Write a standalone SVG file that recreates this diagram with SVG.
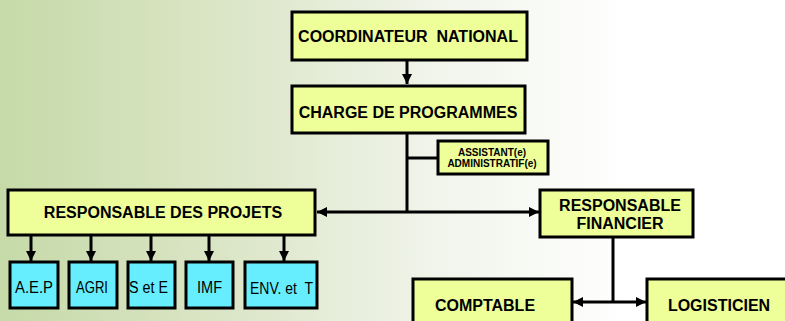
<svg xmlns="http://www.w3.org/2000/svg" width="785" height="321" viewBox="0 0 785 321">
<defs>
<linearGradient id="bg" x1="0" y1="0" x2="1" y2="0">
<stop offset="0" stop-color="#c6daa8"/>
<stop offset="0.3" stop-color="#dce6c8"/>
<stop offset="0.55" stop-color="#f0f4ea"/>
<stop offset="0.8" stop-color="#ffffff"/>
<stop offset="1" stop-color="#ffffff"/>
</linearGradient>
<marker id="ah" viewBox="0 0 10 10" refX="10" refY="5" markerWidth="10" markerHeight="10" markerUnits="userSpaceOnUse" orient="auto-start-reverse">
<path d="M0,0 L10,5 L0,10 z" fill="#000"/>
</marker>
<style>
.y{fill:#eeff99;stroke:#000;stroke-width:3}
.c{fill:#66eeff;stroke:#000;stroke-width:3}
.t{font-family:"Liberation Sans",Arial,sans-serif;font-weight:bold;fill:#000;text-anchor:middle;font-size:16px}
.s{font-family:"Liberation Sans",Arial,sans-serif;font-weight:bold;fill:#000;text-anchor:middle;font-size:10px}
.r{font-family:"Liberation Sans",Arial,sans-serif;fill:#000;text-anchor:middle;font-size:16px}
.l{stroke:#000;stroke-width:3;fill:none}
</style>
</defs>
<rect x="0" y="0" width="785" height="321" fill="url(#bg)"/>
<g id="connectors">
<line class="l" x1="407" y1="60" x2="407" y2="84" marker-end="url(#ah)"/>
<line class="l" x1="407" y1="133" x2="407" y2="212"/>
<line class="l" x1="407" y1="158" x2="438" y2="158"/>
<line class="l" x1="407" y1="212" x2="317" y2="212" marker-end="url(#ah)"/>
<line class="l" x1="407" y1="212" x2="539" y2="212" marker-end="url(#ah)"/>
<line class="l" x1="31" y1="235" x2="31" y2="261" marker-end="url(#ah)"/>
<line class="l" x1="91" y1="235" x2="91" y2="261" marker-end="url(#ah)"/>
<line class="l" x1="151" y1="235" x2="151" y2="261" marker-end="url(#ah)"/>
<line class="l" x1="209" y1="235" x2="209" y2="261" marker-end="url(#ah)"/>
<line class="l" x1="284" y1="235" x2="284" y2="261" marker-end="url(#ah)"/>
<line class="l" x1="613" y1="237" x2="613" y2="302"/>
<line class="l" x1="573" y1="302" x2="646" y2="302" marker-start="url(#ah)" marker-end="url(#ah)"/>
</g>
<g id="coordinateur">
<rect class="y" x="292" y="12" width="235" height="48"/>
<text class="t" x="408" y="42" xml:space="preserve">COORDINATEUR  NATIONAL</text>
</g>
<g id="charge">
<rect class="y" x="292" y="86" width="233" height="47"/>
<text class="t" x="408" y="118">CHARGE DE PROGRAMMES</text>
</g>
<g id="assistant">
<rect class="y" x="438" y="141" width="110" height="33"/>
<text class="s" x="492" y="155.5">ASSISTANT(e)</text>
<text class="s" x="492" y="167">ADMINISTRATIF(e)</text>
</g>
<g id="resp-projets">
<rect class="y" x="8" y="190" width="307" height="45"/>
<text class="t" x="163" y="218">RESPONSABLE DES PROJETS</text>
</g>
<g id="resp-financier">
<rect class="y" x="540" y="190" width="153" height="47"/>
<text class="t" x="620" y="211">RESPONSABLE</text>
<text class="t" x="620" y="229">FINANCIER</text>
</g>
<g id="aep">
<rect class="c" x="10" y="262" width="48" height="46"/>
<text class="r" x="34" y="293" textLength="38" lengthAdjust="spacingAndGlyphs">A.E.P</text>
</g>
<g id="agri">
<rect class="c" x="69" y="262" width="48" height="46"/>
<text class="r" x="92" y="293" textLength="32" lengthAdjust="spacingAndGlyphs">AGRI</text>
</g>
<g id="setE">
<rect class="c" x="128" y="262" width="47" height="46"/>
<text class="r" x="148.5" y="293" textLength="39" lengthAdjust="spacingAndGlyphs">S et E</text>
</g>
<g id="imf">
<rect class="c" x="186" y="262" width="47" height="46"/>
<text class="r" x="209.5" y="293" textLength="25" lengthAdjust="spacingAndGlyphs">IMF</text>
</g>
<g id="env">
<rect class="c" x="245" y="262" width="72" height="46"/>
<text class="r" x="281.5" y="294" textLength="63" lengthAdjust="spacingAndGlyphs" xml:space="preserve">ENV. et  T</text>
</g>
<g id="comptable">
<rect class="y" x="413" y="279" width="159" height="50"/>
<text class="t" x="485" y="311">COMPTABLE</text>
</g>
<g id="logisticien">
<rect class="y" x="647" y="279" width="145" height="50"/>
<text class="t" x="719" y="311">LOGISTICIEN</text>
</g>
</svg>
